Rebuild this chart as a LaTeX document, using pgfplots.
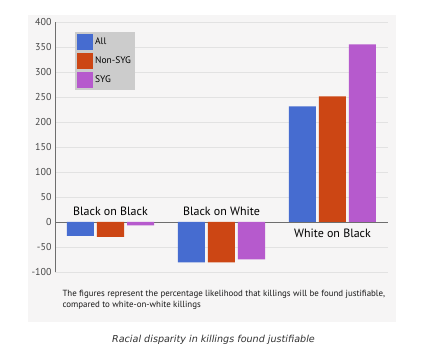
\documentclass[border=0pt]{standalone}
\usepackage{pgfplots}
\pgfplotsset{compat=1.18}
\usepackage{fontspec}
\setmainfont{PT Sans}
\newfontfamily\capfont{DejaVu Sans}
\definecolor{cAll}{RGB}{70,108,208}
\definecolor{cNon}{RGB}{204,70,20}
\definecolor{cSyg}{RGB}{182,90,205}
\definecolor{panel}{RGB}{246,245,245}
\definecolor{gridc}{RGB}{226,226,226}
\definecolor{legbg}{RGB}{204,204,204}
\definecolor{axc}{RGB}{110,110,110}
\definecolor{tickc}{RGB}{70,70,70}
\begin{document}
\begin{tikzpicture}[x=1pt,y=1pt]
\useasboundingbox (0,0) rectangle (426,352);
\fill[white] (0,0) rectangle (426,352);
\fill[panel] (28,30) rectangle (396,337);
\begin{axis}[at={(55pt,80pt)}, anchor=south west, scale only axis,
  width=333pt, height=250pt,
  xmin=-0.5, xmax=2.5, ymin=-100, ymax=400,
  ytick={-100,-50,...,400}, xtick=\empty,
  axis y line=left, axis x line=middle,
  axis line style={-, axc, line width=0.9pt},
  major tick length=0pt,
  ymajorgrids, grid style={gridc, line width=0.8pt},
  yticklabel style={font=\fontsize{10}{12}\selectfont, text=tickc},
  /pgf/number format/assume math mode=true,
  ybar=3pt, bar width=27pt,
  legend style={at={(0.06,0.96)}, anchor=north west, fill=legbg, draw=none,
    font=\fontsize{9.5}{11}\selectfont, row sep=2.7pt, inner xsep=2pt, inner ysep=2pt},
  legend cell align=left,
  clip=false,
]
\addplot[fill=cAll, draw=none, legend image code/.code={\fill[cAll] (0pt,-8pt) rectangle (16pt,8pt);}]
  coordinates {(0,-28) (1,-81) (2,231)};
\addplot[fill=cNon, draw=none, legend image code/.code={\fill[cNon] (0pt,-8pt) rectangle (16pt,8pt);}]
  coordinates {(0,-30) (1,-81) (2,251)};
\addplot[fill=cSyg, draw=none, legend image code/.code={\fill[cSyg] (0pt,-8pt) rectangle (16pt,8pt);}]
  coordinates {(0,-7) (1,-75) (2,355)};
\legend{All, Non-SYG, SYG}
\node[font=\fontsize{12}{14}\selectfont, anchor=south] at (axis cs:0,0) [yshift=3pt] {Black on Black};
\node[font=\fontsize{12}{14}\selectfont, anchor=south] at (axis cs:1,0) [yshift=3pt] {Black on White};
\node[font=\fontsize{12}{14}\selectfont, anchor=north] at (axis cs:2,0) [yshift=-3pt] {White on Black};
\end{axis}
\node[anchor=west, align=left, font=\fontsize{8.9}{11}\selectfont, text=black!90] at (59,52.5)
  {The figures represent the percentage likelihood that killings will be found justifiable,\\compared to white-on-white killings};
\node[font=\capfont\itshape\fontsize{9.6}{11}\selectfont, text=black!80] at (213.5,12) {Racial disparity in killings found justifiable};
\end{tikzpicture}
\end{document}
